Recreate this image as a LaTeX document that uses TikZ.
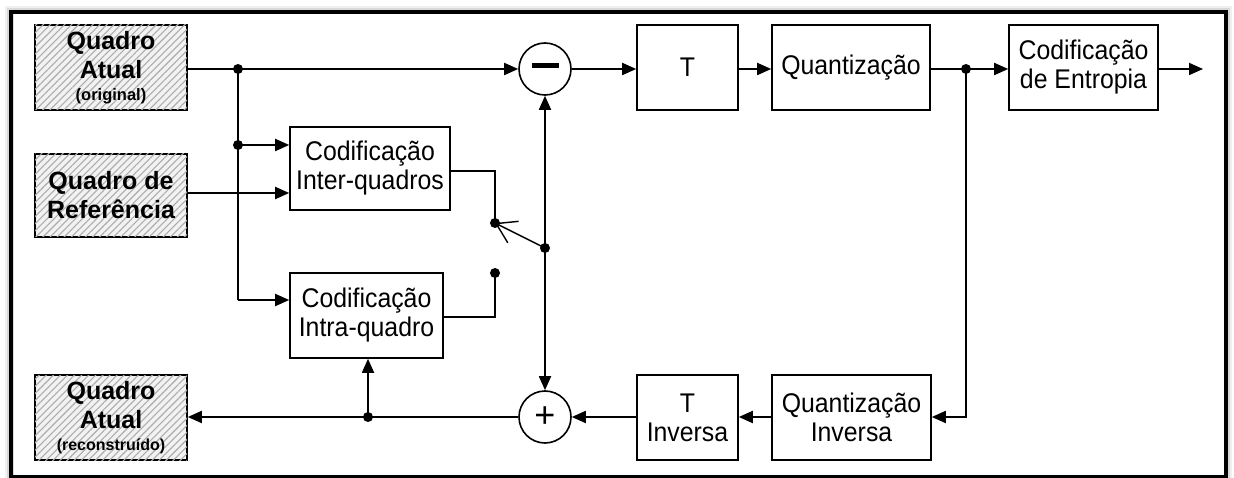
\documentclass[tikz,border=0pt]{standalone}
\usepackage{fontspec}
\setmainfont{Liberation Sans}
\newfontfamily\tallsans[FakeStretch=0.92]{Liberation Sans}
\usetikzlibrary{arrows.meta,patterns.meta}
\begin{document}
\begin{tikzpicture}[x=1pt,y=-1pt,
  line width=1.8pt,
  >={Triangle[length=14pt,width=12pt]},
  blk/.style={draw, line width=1.6pt, inner sep=0pt, align=center,
    font=\tallsans\fontsize{27}{29}\selectfont},
  hatch/.style={draw, line width=1.6pt, inner sep=0pt, align=center,
    fill=gray!10,
    postaction={pattern={Lines[angle=45,distance=5pt,line width=1.1pt]},pattern color=gray!65},
    minimum width=152pt, minimum height=85pt,
    font=\bfseries\fontsize{25}{29}\selectfont},
  sumc/.style={draw, circle, line width=1.6pt, minimum size=52pt, inner sep=0pt},
  jdot/.style={circle, fill=black, inner sep=0pt, minimum size=10pt}
]
\useasboundingbox (0,0) rectangle (1234,478);
% frame with soft shadow
\draw[line width=12pt, gray!12] (11,12) rectangle (1226,477);
\draw[line width=8pt, gray!30] (11,12) rectangle (1226,477);
\draw[line width=4.5pt, black] (11,12) rectangle (1226,477);
\fill[white] (13.5,14.5) rectangle (1223.5,474.5);

% source / sink frames
\node[hatch] (qa) at (111,67.5) {Quadro\\Atual\\[-7pt]\fontsize{16.5}{17}\selectfont (original)};
\node[hatch, minimum height=83pt] (qr) at (111,195.5) {Quadro de\\Referência};
\node[hatch] (qrec) at (111,417.5) {Quadro\\Atual\\[-7pt]\fontsize{16}{17}\selectfont (reconstruído)};

% coding blocks
\node[blk, minimum width=160pt, minimum height=83pt] (inter) at (370,168.5) {Codificação\\Inter-quadros};
\node[blk, minimum width=153pt, minimum height=85pt] (intra) at (366.5,315.5) {Codificação\\Intra-quadro};

\node[sumc] (minus) at (545,69) {\rule[7pt]{27pt}{5pt}};
\node[sumc] (plus) at (545,417) {\fontsize{36}{36}\selectfont +};

\node[blk, minimum width=101pt, minimum height=85pt] (T) at (687.5,67.5) {T};
\node[blk, minimum width=158pt, minimum height=85pt] (Q) at (851,67.5) {Quantização};
\node[blk, minimum width=149pt, minimum height=85pt] (CE) at (1083.5,67.5) {Codificação\\de Entropia};
\node[blk, minimum width=159pt, minimum height=85pt] (QI) at (851.5,417.5) {Quantização\\Inversa};
\node[blk, minimum width=101pt, minimum height=85pt] (TI) at (687.5,417.5) {T\\Inversa};

% junctions
\node[jdot] (j1) at (238,69) {};
\node[jdot] (j2) at (238,145) {};
\coordinate (j3) at (238,300);
\node[jdot] (j4) at (966,69) {};
\coordinate (j5) at (966,417);
\node[jdot] (j6) at (368,417) {};
\node[jdot] (sw) at (545,248) {};
\node[jdot] (sa) at (495,223) {};
\node[jdot] (sb) at (495,273) {};
\coordinate (out) at (1203,69);

% top path
\draw (qa.east |- j1) -- (j1.center);
\draw[->] (j1.center) -- (minus.west);
\draw (j1.center) -- (j3);
\draw[->] (j2.center) -- (inter.west |- j2);
\draw[->] (j3) -- (intra.west |- j3);
\draw[->] (qr.east |- 0,193) -- (inter.west |- 0,193);
\draw[->] (minus.east) -- (T.west |- minus);
\draw[->] (T.east |- 0,69) -- (Q.west |- 0,69);
\draw (Q.east |- j4) -- (j4.center);
\draw[->] (j4.center) -- (CE.west |- j4);
\draw[->] (CE.east |- out) -- (out);

% feedback
\draw[->] (j4.center) -- (j5) -- (QI.east |- j5);
\draw[->] (QI.west |- 0,417) -- (TI.east |- 0,417);
\draw[->] (TI.west |- plus) -- (plus.east);
\draw[->] (plus.west |- j6) -- (qrec.east |- j6);
\draw[->] (j6.center) -- (intra.south -| j6);

% switch
\draw (inter.east |- 0,171) -| (sa.center);
\draw (intra.east |- 0,317) -| (sb.center);
\draw[line width=1.4pt, -{Straight Barb[length=19pt,width=24pt]}] (sw.center) -- (sa.center);
\draw[->] (sw.center) -- (minus.south);
\draw[->] (sw.center) -- (plus.north);
\end{tikzpicture}
\end{document}
